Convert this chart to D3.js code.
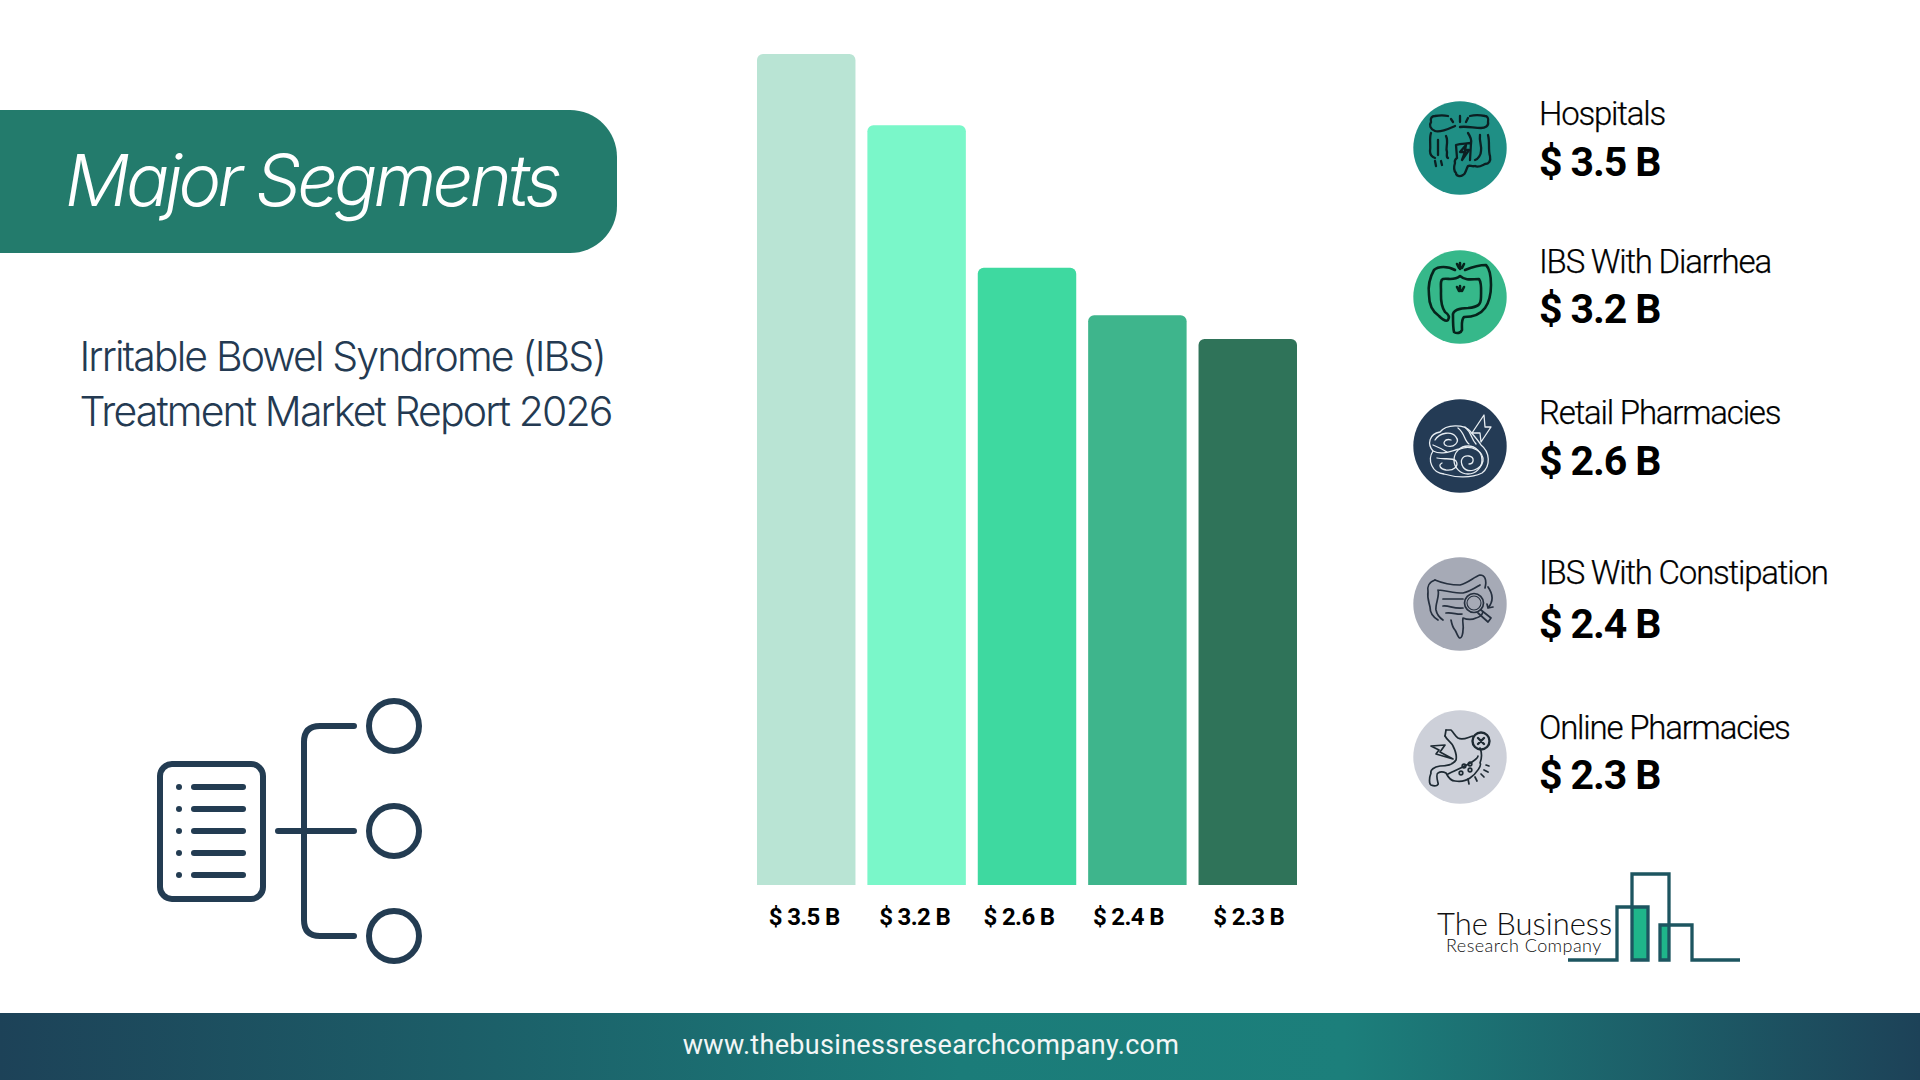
<!DOCTYPE html>
<html>
<head>
<meta charset="utf-8">
<script src="https://cdn.jsdelivr.net/npm/d3@7"></script>
<style>
  html, body { margin: 0; padding: 0; background: #fff; }
  svg { display: block; }
  text { font-family: Roboto, sans-serif; }
</style>
</head>
<body>
<div id="chart"></div>
<script>
const categories = ['Hospitals', 'IBS With Diarrhea', 'Retail Pharmacies', 'IBS With Constipation', 'Online Pharmacies'];
const values = [3.5, 3.2, 2.6, 2.4, 2.3];
const barColors = ['#b9e4d4', '#7af7c9', '#3ed9a0', '#3eb58c', '#2f7359'];
const iconColors = ['#1f8f85', '#36b88a', '#243b55', '#a6aab6', '#cdd0d9'];
const titleLines = ['Irritable Bowel Syndrome (IBS)', 'Treatment Market Report 2026'];

const fmt = v => `$ ${v.toFixed(1)} B`;

const svg = d3.select('#chart').append('svg')
  .attr('width', 1920).attr('height', 1080)
  .attr('viewBox', '0 0 1920 1080');

const defs = svg.append('defs');
const footGrad = defs.append('linearGradient').attr('id', 'foot');
footGrad.append('stop').attr('offset', '0%').attr('stop-color', '#1d4258');
footGrad.append('stop').attr('offset', '50%').attr('stop-color', '#1b7c79');
footGrad.append('stop').attr('offset', '70%').attr('stop-color', '#1c7f7b');
footGrad.append('stop').attr('offset', '100%').attr('stop-color', '#1d4258');

// banner
const bannerPath = d3.path();
bannerPath.moveTo(0, 110);
bannerPath.lineTo(570, 110);
bannerPath.arcTo(617, 110, 617, 157, 47);
bannerPath.lineTo(617, 206);
bannerPath.arcTo(617, 253, 570, 253, 47);
bannerPath.lineTo(0, 253);
bannerPath.closePath();
svg.append('path').attr('d', bannerPath.toString()).attr('fill', '#237b6c');
svg.append('text').text('Major Segments')
  .attr('x', 65).attr('y', 206)
  .style('font-family', 'Inter').style('font-style', 'italic').style('font-weight', 350)
  .style('font-size', '72px').style('letter-spacing', '-3.9px')
  .attr('fill', '#fff');

svg.selectAll('.subtitle').data(titleLines).join('text')
  .attr('class', 'subtitle')
  .attr('x', 79.5).attr('y', (d, i) => 371 + i * 55)
  .style('font-family', 'Inter').style('font-weight', 350)
  .style('font-size', '41px').style('letter-spacing', '-1.88px')
  .attr('fill', '#243a52')
  .text(d => d);

// segments icon, bottom left
const navy = '#233c52';
const seg = svg.append('g').attr('fill', 'none').attr('stroke', navy)
  .attr('stroke-width', 6).attr('stroke-linecap', 'round');
seg.append('rect').attr('x', 160).attr('y', 764).attr('width', 103).attr('height', 135).attr('rx', 12);
seg.selectAll('.row').data([787, 809, 831, 853, 875]).join('line')
  .attr('class', 'row').attr('x1', 194).attr('x2', 243).attr('y1', d => d).attr('y2', d => d);
seg.selectAll('.dot').data([787, 809, 831, 853, 875]).join('circle')
  .attr('class', 'dot').attr('cx', 179).attr('cy', d => d).attr('r', 3)
  .attr('fill', navy).attr('stroke', 'none');
seg.append('path').attr('d', 'M354,726H320Q304,726 304,742V920Q304,936 320,936H354M278,831H354');
seg.selectAll('.node').data([726, 831, 936]).join('circle')
  .attr('class', 'node').attr('cx', 394).attr('cy', d => d).attr('r', 25);

// bars
const x = d3.scaleBand().domain(categories).range([757, 1297]).paddingInner(0.108);
const y = d3.scaleLinear().domain([0, 3.5]).range([885, 54]);

const barPath = d => {
  const p = d3.path();
  const x0 = x(d.name), x1 = x0 + x.bandwidth(), top = y(d.value), r = 6;
  p.moveTo(x0, y(0));
  p.lineTo(x0, top + r);
  p.arcTo(x0, top, x0 + r, top, r);
  p.lineTo(x1 - r, top);
  p.arcTo(x1, top, x1, top + r, r);
  p.lineTo(x1, y(0));
  p.closePath();
  return p.toString();
};

const rows = categories.map((name, i) => ({ name, value: values[i], i }));

svg.append('g').selectAll('path').data(rows).join('path')
  .attr('d', barPath)
  .attr('fill', d => barColors[d.i]);

// labels under the bars sit slightly off centre in the reference
const labelNudge = [-2, -2, -8, -9, 1];
svg.append('g').selectAll('text').data(rows).join('text')
  .attr('x', d => x(d.name) + x.bandwidth() / 2 + labelNudge[d.i])
  .attr('y', 925)
  .attr('text-anchor', 'middle')
  .style('font-weight', 700).style('font-size', '24px').style('letter-spacing', '-0.65px')
  .attr('fill', '#000')
  .text(d => fmt(d.value));

// legend icons, drawn around 0,0 of each circle
const iconDraw = [
  g => {
    g.attr('stroke', '#0c1f22').attr('stroke-width', 2.3);
    g.append('path').attr('d', 'M-5,-22C-12,-19 -20,-15 -25,-17C-30,-19 -31,-23 -29,-26C-30,-30 -28,-32 -25,-32C-20,-33 -16,-33 -12,-32');
    g.append('path').attr('d', 'M0,-21C7,-22 14,-20 21,-20C25,-20 29,-22 28,-26C29,-30 27,-32 25,-32C20,-33 14,-33 10,-32');
    g.append('path').attr('d', 'M-29,-15C-31,-9 -29,-3 -30,3C-30,7 -28,9 -25,10M-14,-12C-11,-6 -15,0 -13,4C-13,7 -14,9 -12,10M-22,-8V7');
    g.append('path').attr('d', 'M28,-13C30,-6 28,2 30,8C31,13 29,16 25,16C21,18 18,20 15,18C12,19 10,17 8,18C6,21 6,26 3,27C0,29 -4,28 -4,25C-7,22 -6,18 -5,15C-6,12 -4,11 -3,10L-4,-3C1,-5 6,-4 11,-5L10,12');
    g.append('path').attr('d', 'M20,-13C19,-7 22,-2 21,3C21,7 18,11 15,12M8,-15C10,-12 12,-9 11,-5');
    g.append('path').attr('d', 'M6,-3L0,4H5L2,12L9,2H5Z');
    g.append('path').attr('d', 'M-9,-29L-7,-26M0,-32L0,-26M8,-30L6,-26M-25,13L-24,18M-19,13L-18,17');
  },
  g => {
    g.attr('stroke', '#06231b').attr('stroke-width', 2.6);
    g.append('path').attr('d', 'M-5,-27C-12,-31 -22,-31 -26,-27C-30,-20 -32,-10 -31,-2C-31,8 -27,15 -21,19C-18,22 -14,25 -12,23C-10,20 -12,17 -15,15C-20,8 -19,0 -19,-6C-19,-12 -20,-17 -17,-18C-12,-19 -6,-16 0,-21C6,-16 12,-18 19,-18C22,-14 21,-6 21,0C21,8 18,10 8,11C0,11 -8,13 -7,19C-7,25 -7,31 -6,35C-3,37 1,36 2,33C2,28 1,23 4,20C12,20 20,18 25,11C30,4 31,-4 31,-12C31,-20 30,-28 26,-32C18,-32 10,-29 5,-27');
    g.append('path').attr('d', 'M-3,-33L-1,-29M4,-33L2,-29M0,-34V-28M-3,-10L-1,-6M4,-10L2,-6M0,-11V-6');
  },
  g => {
    g.attr('stroke', '#e7edf2').attr('stroke-width', 1.3);
    g.append('path').attr('d', 'M-20,-14C-14,-22 4,-22 10,-15C14,-10 18,-6 21,-1C30,6 31,20 22,27C10,33 -6,31 -16,28C-28,27 -33,14 -27,5C-33,-2 -31,-12 -20,-14Z');
    g.append('path').attr('d', 'M-25,-6C-20,-14 -8,-15 -4,-9C0,-4 -6,2 -13,0C-19,-2 -15,-8 -9,-6');
    g.append('path').attr('d', 'M-27,5C-17,10 -8,4 0,3C12,-2 24,6 23,15C21,24 8,28 3,21C-1,14 3,9 9,10C15,11 14,18 9,18');
    g.append('path').attr('d', 'M-23,12C-16,14 -8,11 -4,15C-1,20 -6,25 -14,24C-20,23 -22,19 -18,17M-2,-18C5,-13 4,-5 9,-2M5,-19C12,-13 11,-7 16,-2M-27,-1C-22,1 -18,3 -13,6');
    g.append('circle').attr('cx', 8).attr('cy', 14).attr('r', 14);
    g.append('path').attr('d', 'M12,-13L24,-31L25,-19L31,-19L21,-4L20,-13Z');
  },
  g => {
    g.attr('stroke', '#26303f').attr('stroke-width', 1.7);
    g.append('path').attr('d', 'M-25,-24C-18,-21 -8,-19 0,-19C8,-21 14,-27 20,-29C25,-29 27,-24 25,-16');
    g.append('path').attr('d', 'M-25,-24C-31,-22 -33,-17 -32,-12C-33,-6 -31,-2 -30,3C-30,9 -27,13 -22,16');
    g.append('path').attr('d', 'M-22,-14C-20,-8 -25,0 -24,6C-23,11 -20,14 -17,16M-22,-14C-12,-13 -6,-11 3,-11C9,-12 15,-16 20,-19');
    g.append('path').attr('d', 'M-17,-5H3M-17,2C-11,1 -7,5 3,4M-14,9C-8,8 -2,11 2,10');
    g.append('path').attr('d', 'M-9,16C-8,21 -7,24 -5,26C-3,29 -2,34 0,34C2,34 3,29 3,26C4,22 2,18 3,14C8,16 12,16 16,14C20,13 22,11 23,8');
    g.append('circle').attr('cx', 14).attr('cy', -1).attr('r', 9.5);
    g.append('circle').attr('cx', 14).attr('cy', -1).attr('r', 7).attr('stroke-width', 1.1);
    g.append('path').attr('d', 'M21,6L31,14L28,18L18,9M28,-17C33,-10 34,-3 28,4M27,0L28,4L33,3');
  },
  g => {
    g.attr('stroke', '#1e2a33').attr('stroke-width', 1.7);
    g.append('path').attr('d', 'M-14,-27H-9C-6,-24 -5,-21 -2,-19C3,-16 8,-20 13,-21');
    g.append('path').attr('d', 'M-15,-21C-13,-17 -8,-14 -7,-11C-4,-5 -3,-1 -4,3C-7,8 -14,9 -20,9C-26,10 -30,13 -29,16C-31,21 -31,27 -29,28C-24,30 -21,28 -22,26C-23,22 -24,17 -22,16C-19,14 -16,15 -14,16C-11,22 -7,24 -5,24C2,25 6,24 10,21C17,16 22,8 20,6C22,1 22,-4 20,-9');
    g.append('path').attr('d', 'M-15,-21L-14,-27M-12,17C-4,13 6,9 12,5C15,3 18,0 18,-1');
    g.append('circle').attr('cx', 21).attr('cy', -16).attr('r', 8.5).attr('stroke-width', 2.4);
    g.append('path').attr('d', 'M18,-19L24,-13M24,-19L18,-13').attr('stroke-width', 2.4);
    g.append('path').attr('d', 'M-29,-11L-15,-12L-20,-5L-7,2L-24,-3L-21,-7Z');
    g.selectAll('.bub').data([[4, 9], [10, 13], [1, 16], [10, 7]]).join('circle')
      .attr('class', 'bub').attr('cx', d => d[0]).attr('cy', d => d[1]).attr('r', 1.8);
    g.append('path').attr('d', 'M26,8L29,9M24,13L28,15M21,17L24,20M15,20L17,24M8,22L9,27');
  }
];

const iconCy = [148, 297, 446, 604, 757];
const labelBase = [125, 273, 424, 584, 739];
const valueBase = [176, 323, 475, 638, 789];

const legend = svg.append('g').selectAll('g').data(rows).join('g');
legend.append('circle')
  .attr('cx', 1460).attr('cy', d => iconCy[d.i]).attr('r', 46.7)
  .attr('fill', d => iconColors[d.i]);
legend.append('g')
  .attr('transform', d => `translate(1460,${iconCy[d.i]})`)
  .attr('fill', 'none').attr('stroke-linecap', 'round').attr('stroke-linejoin', 'round')
  .each(function(d) { iconDraw[d.i](d3.select(this)); });
legend.append('text')
  .attr('x', 1539).attr('y', d => labelBase[d.i])
  .style('font-size', '33px').style('font-weight', 300).style('letter-spacing', '-1.2px')
  .style('stroke', '#000').style('stroke-width', 0.25)
  .attr('fill', '#000')
  .text(d => d.name);
legend.append('text')
  .attr('x', 1539).attr('y', d => valueBase[d.i])
  .style('font-size', '41px').style('font-weight', 700).style('letter-spacing', '-1.1px')
  .attr('fill', '#000')
  .text(d => fmt(d.value));

// company logo
const logo = svg.append('g');
logo.append('rect').attr('x', 1632).attr('y', 907).attr('width', 16).attr('height', 53).attr('fill', '#1fb58a');
logo.append('rect').attr('x', 1660).attr('y', 925).attr('width', 9).attr('height', 35).attr('fill', '#1fb58a');
logo.append('path')
  .attr('d', 'M1568,960H1617V907H1648V960H1632V874H1669V960H1660V925H1692V960H1740')
  .attr('fill', 'none').attr('stroke', '#1d5560').attr('stroke-width', 3.3);
logo.append('text').text('The Business')
  .attr('x', 1437).attr('y', 935)
  .style('font-family', 'Lato').style('font-weight', 300).style('font-size', '31px')
  .attr('fill', '#111');
logo.append('text').text('Research Company')
  .attr('x', 1446).attr('y', 952)
  .style('font-family', 'Lato').style('font-weight', 300).style('font-size', '18px').style('letter-spacing', '0.45px')
  .attr('fill', '#111');

// footer
svg.append('rect').attr('x', 0).attr('y', 1013).attr('width', 1920).attr('height', 67).attr('fill', 'url(#foot)');
svg.append('text').text('www.thebusinessresearchcompany.com')
  .attr('x', 931).attr('y', 1054).attr('text-anchor', 'middle')
  .style('font-size', '27px').style('font-weight', 400).style('letter-spacing', '0.32px')
  .attr('fill', '#f2f6f6');
</script>
</body>
</html>
